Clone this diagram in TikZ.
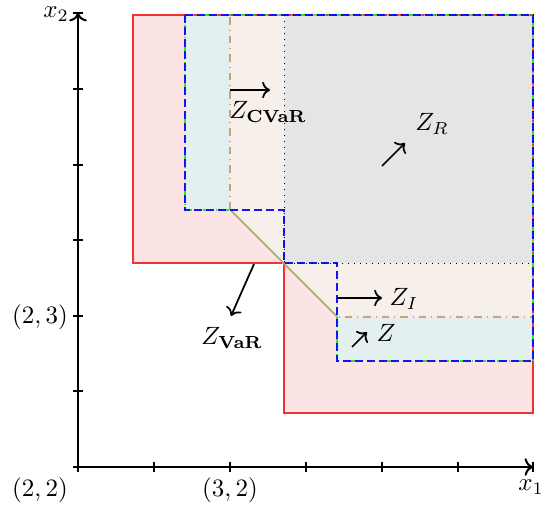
\documentclass[tikz,border=0pt]{standalone}
\usetikzlibrary{arrows.meta}
\definecolor{pinkfill}{RGB}{253,228,228}
\definecolor{zfill}{RGB}{228,240,240}
\definecolor{cvarfill}{RGB}{247,240,234}
\definecolor{rfill}{RGB}{229,229,229}
\definecolor{tanline}{RGB}{200,164,122}
\definecolor{zgreen}{RGB}{40,230,40}
\definecolor{vred}{RGB}{245,50,50}
\definecolor{iblue}{RGB}{20,20,240}
\begin{document}
\begin{tikzpicture}[x=0.4pt,y=-0.4pt,
  axis/.style={line width=0.8pt,->},
  tickmark/.style={line width=0.45pt},
  pointer/.style={line width=0.7pt,->},
  lab/.style={inner sep=1pt},
  idash/.style={dash pattern=on 3.2pt off 1.6pt}]
\useasboundingbox (0,0) rectangle (545,512);
% fills
\fill[pinkfill] (133,15) -- (533,15) -- (533,413) -- (284,413) -- (284,263) -- (133,263) -- cycle;
\fill[zfill] (185,15) -- (533,15) -- (533,361) -- (337,361) -- (337,317) -- (230,210) -- (185,210) -- cycle;
\fill[cvarfill] (230,15) -- (533,15) -- (533,317) -- (337,317) -- (230,210) -- cycle;
\fill[rfill] (284,15) rectangle (533,263);
% borders
\draw[vred,line width=0.45pt] (133,15) -- (533,15) -- (533,413) -- (284,413) -- (284,263) -- (133,263) -- cycle;
\draw[tanline,dashdotted,line width=0.45pt] (230,210) -- (230,15) -- (533,15) -- (533,317) -- (337,317);
\draw[tanline,line width=0.45pt] (337,317) -- (230,210);
\draw[zgreen,dashdotted,line width=0.45pt] (337,317) -- (337,361) -- (533,361) -- (533,15) -- (185,15) -- (185,210) -- (230,210);
\draw[zgreen,line width=0.25pt] ([shift={(0.6,-0.6)}]230,210) -- ([shift={(0.6,-0.6)}]337,317);
\draw[iblue,idash,line width=0.45pt] (185,15) -- (533,15) -- (533,361) -- (337,361) -- (337,263) -- (284,263) -- (284,210) -- (185,210) -- cycle;
\draw[black,dotted,line width=0.4pt] (284,15) rectangle (533,263);
% axes
\coordinate (O) at (78,467);
\coordinate (xend) at (533,467);
\coordinate (yend) at (78,13);
\draw[axis] (O) -- (xend);
\draw[axis] (O) -- (yend);
\foreach \t in {78,154,230,306,382,458,533}
  \draw[tickmark] (\t,462) -- (\t,472);
\foreach \t in {467,391,316,240,165,89,13}
  \draw[tickmark] (73,\t) -- (83,\t);
% axis labels
\node[lab] (l22) at (40,490) {$(2,2)$};
\node[lab] (l32) at (230,490) {$(3,2)$};
\node[lab] (l23) at (40,317) {$(2,3)$};
\node[lab] (x1) at (531,487) {$x_1$};
\node[lab] (x2) at (56,14) {$x_2$};
% region labels and pointers
\coordinate (cv0) at (230,90);
\coordinate (cv1) at (270,90);
\draw[pointer] (cv0) -- (cv1);
\node[lab] (zcvar) at (268,112) {$Z_{\mathbf{CVaR}}$};
\coordinate (i0) at (337,298);
\coordinate (i1) at (382,298);
\draw[pointer] (i0) -- (i1);
\node[lab] (zi) at (404,299) {$Z_I$};
\coordinate (z0) at (352,347);
\coordinate (z1) at (367,332);
\draw[pointer] (z0) -- (z1);
\node[lab] (zz) at (386,333) {$Z$};
\coordinate (r0) at (382,166);
\coordinate (r1) at (405,143);
\draw[pointer] (r0) -- (r1);
\node[lab] (zr) at (432,124) {$Z_R$};
\coordinate (v0) at (254,264);
\coordinate (v1) at (231,316);
\draw[pointer] (v0) -- (v1);
\node[lab] (zvar) at (232,338) {$Z_{\mathbf{VaR}}$};
\end{tikzpicture}
\end{document}
